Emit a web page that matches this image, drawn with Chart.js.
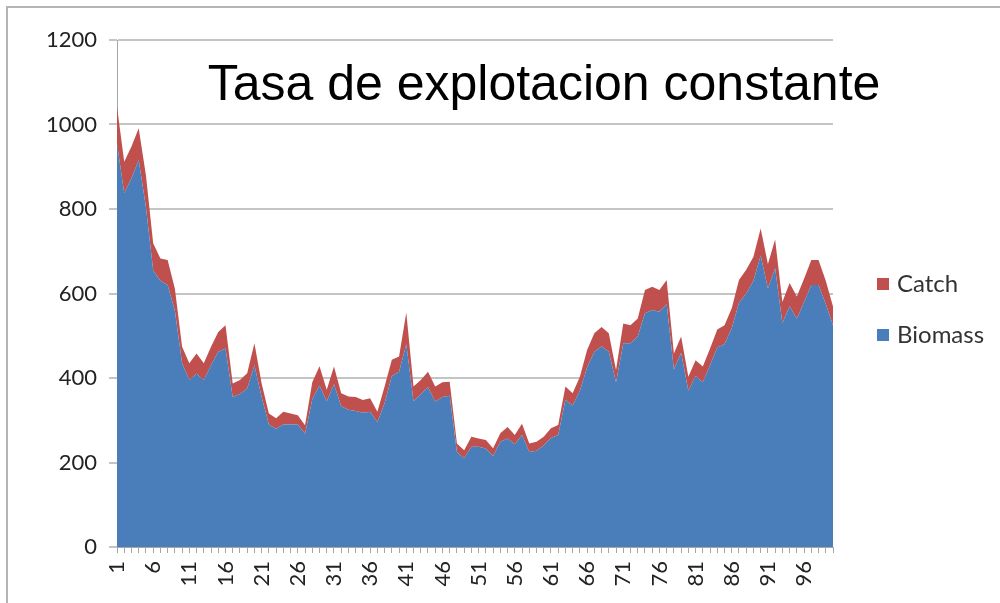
<!DOCTYPE html>
<html>
<head>
<meta charset="utf-8">
<script src="https://cdn.jsdelivr.net/npm/chart.js@4/dist/chart.umd.min.js"></script>
<style>
  html, body { margin:0; padding:0; background:#fff; }
  #wrap { position:relative; width:1000px; height:603px; overflow:hidden; }
  #frame { position:absolute; left:6px; top:6px; width:1100px; height:700px; border:2px solid #b4b4b4; box-sizing:border-box; }
  canvas { position:absolute; left:0; top:0; }
  #title { position:absolute; left:0; width:1088px; top:58px; text-align:center; font-family:"Liberation Sans", Arial, sans-serif; font-size:50px; line-height:50px; color:#000; white-space:nowrap; }
  .leg { position:absolute; left:877px; font-family:Lato, sans-serif; font-size:24px; color:#333; line-height:30px; white-space:nowrap; }
  .leg span.box { display:inline-block; width:12px; height:12px; margin-right:8px; vertical-align:middle; position:relative; top:-2px; }
</style>
</head>
<body>
<div id="wrap">
  <div id="frame"></div>
  <canvas id="c" width="1000" height="603"></canvas>
  <div id="title">Tasa de explotacion constante</div>
  <div class="leg" style="top:268px"><span class="box" style="background:#c0504d"></span>Catch</div>
  <div class="leg" style="top:319px"><span class="box" style="background:#4a7ebb"></span>Biomass</div>
</div>
<script>
const categories = Array.from({length: 100}, (_, i) => String(i + 1));

const biomass = [
  955, 837, 873, 916, 805, 655, 630, 620, 560, 435,
  395, 410, 395, 430, 462, 470, 355, 362, 375, 430,
  355, 290, 280, 290, 290, 290, 268, 350, 382, 345,
  385, 333, 325, 322, 318, 320, 295, 340, 405, 415,
  480, 345, 362, 378, 344, 355, 358, 225, 210, 237,
  237, 233, 215, 249, 257, 243, 265, 225, 228, 240,
  258, 265, 348, 335, 370, 425, 462, 475, 462, 390,
  482, 482, 498, 553, 561, 557, 575, 420, 460, 370,
  405, 390, 430, 472, 480, 518, 578, 600, 630, 690,
  612, 660, 530, 570, 540, 580, 620, 620, 575, 525
];

const catchData = [
  87, 75, 75, 75, 75, 64, 53, 59, 52, 39,
  40, 48, 40, 44, 47, 55, 32, 33, 36, 52,
  32, 26, 25, 30, 26, 22, 20, 40, 46, 27,
  42, 31, 31, 33, 30, 32, 25, 40, 38, 36,
  75, 35, 33, 37, 36, 35, 33, 20, 19, 24,
  20, 20, 19, 20, 27, 22, 27, 20, 21, 21,
  23, 24, 32, 29, 33, 41, 44, 46, 44, 29,
  47, 43, 43, 55, 55, 51, 57, 38, 38, 33,
  37, 37, 40, 43, 45, 47, 54, 56, 57, 64,
  58, 68, 50, 55, 53, 55, 59, 59, 55, 44
];

const yTicks = { min: 0, max: 1200, step: 200 };
const labelEvery = 5;

const axisGray = '#a6a6a6';

new Chart(document.getElementById('c'), {
  type: 'line',
  data: {
    labels: categories,
    datasets: [
      { label: 'Biomass', data: biomass, backgroundColor: '#4a7ebb', borderWidth: 0, fill: 'origin', pointRadius: 0, tension: 0 },
      { label: 'Catch', data: catchData, backgroundColor: '#c0504d', borderWidth: 0, fill: '-1', pointRadius: 0, tension: 0 }
    ]
  },
  options: {
    responsive: false,
    animation: false,
    layout: { padding: { left: 0, right: 167, top: 40, bottom: 0 } },
    plugins: { legend: { display: false }, tooltip: { enabled: false }, title: { display: false } },
    scales: {
      x: {
        offset: false,
        grid: { display: true, drawOnChartArea: false, drawTicks: true, tickLength: 6, color: axisGray, lineWidth: 1 },
        border: { display: true, color: axisGray, width: 1 },
        ticks: {
          autoSkip: false, minRotation: 90, maxRotation: 90, padding: 8,
          font: { family: 'Lato', size: 22 }, color: '#222',
          callback: (v, i) => (i % labelEvery === 0 ? categories[i] : '')
        },
        afterFit: (s) => { s.height = 56; }
      },
      y: {
        stacked: true,
        min: yTicks.min, max: yTicks.max,
        ticks: { stepSize: yTicks.step, padding: 12, font: { family: 'Lato', size: 22 }, color: '#222', callback: (v) => String(v) },
        grid: { color: '#c4c4c4', lineWidth: 2, drawTicks: true, tickLength: 8 },
        border: { display: true, color: axisGray, width: 1 },
        afterFit: (s) => { s.width = 117; }
      }
    }
  }
});
</script>
</body>
</html>
